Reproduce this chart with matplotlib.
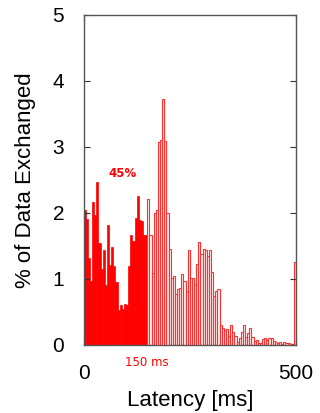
import numpy as np
import matplotlib
matplotlib.use('Agg')
import matplotlib.pyplot as plt

# histogram: 5 ms bins from 0 to 500 ms, % of data exchanged per bin
bin_width = 5
fast_pct = [2.05, 1.9, 1.32, 0.96, 2.17, 1.97, 2.47, 1.54, 1.15, 1.43,
            0.9, 1.82, 1.21, 1.48, 1.19, 0.95, 0.53, 0.6, 0.55, 0.62,
            0.6, 1.2, 1.67, 1.58, 1.92, 2.25, 1.89, 1.87, 1.67, 1.67]
slow_pct = [2.21, 1.67, 1.09, 2.0, 2.05, 3.08, 3.1, 3.72, 3.09, 2.0,
            1.45, 1.01, 1.05, 0.77, 0.84, 0.86, 1.08, 0.97, 0.82, 1.44,
            1.02, 1.01, 0.92, 1.23, 1.56, 1.38, 1.45, 1.44, 1.35, 1.44,
            1.1, 0.74, 0.82, 0.84, 0.3, 0.26, 0.22, 0.24, 0.13, 0.3,
            0.2, 0.14, 0.05, 0.1, 0.2, 0.3, 0.12, 0.18, 0.25, 0.12,
            0.06, 0.08, 0.03, 0.03, 0.09, 0.1, 0.07, 0.1, 0.1, 0.06,
            0.04, 0.03, 0.04, 0.02, 0.05, 0.03, 0.03, 0.02, 0.02, 1.25]
cutoff_ms = 150
fast_share = '45%'

fast_x = np.arange(len(fast_pct)) * bin_width
slow_x = cutoff_ms + np.arange(len(slow_pct)) * bin_width

fig = plt.figure(figsize=(3.2, 4.13), dpi=100)
ax = fig.add_axes([0.261, 0.165, 0.664, 0.799])

ax.bar(fast_x, fast_pct, width=bin_width, align='edge', color='red',
       edgecolor='red', linewidth=0.5)
ax.bar(slow_x, slow_pct, width=bin_width, align='edge', color='#fff0f0',
       edgecolor='#ff3030', linewidth=0.8)

ax.text(92, 2.6, fast_share, color='red', fontsize=8.5, fontweight='bold',
        ha='center', va='center')
ax.text(cutoff_ms, -0.27, '150 ms', color='red', fontsize=8.5,
        ha='center', va='center', clip_on=False)

ax.set_xlim(0, 500)
ax.set_ylim(0, 5)
ax.set_xticks([0, 500])
ax.set_yticks([0, 1, 2, 3, 4, 5])
ax.tick_params(direction='in', top=True, right=True, length=4, width=0.8,
               color='#333333', labelsize=15, pad=14)
for lab in ax.get_xticklabels() + ax.get_yticklabels():
    lab.set_fontfamily('Liberation Sans')
for s in ax.spines.values():
    s.set_color('#555555')
    s.set_linewidth(1)

ax.set_xlabel('Latency [ms]', fontsize=16, family='Liberation Sans', labelpad=5)
ax.set_ylabel('% of Data Exchanged', fontsize=16, family='Liberation Sans', labelpad=12)

fig.savefig('out.png', dpi=100)
